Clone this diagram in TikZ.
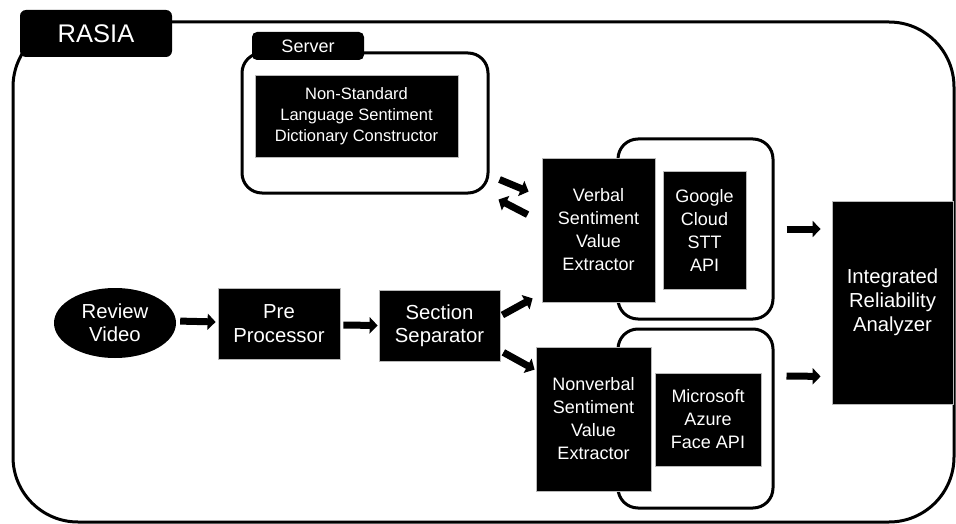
\documentclass[tikz,border=0pt]{standalone}
\usepackage{fontspec}
\setmainfont{Liberation Sans}
\usetikzlibrary{arrows.meta,shapes.geometric}
\tikzset{
  blk/.style={fill=black, draw=gray!55, line width=0.8pt, text=white, align=center, inner sep=0pt},
  fsR/.style={font=\fontsize{18}{23}\selectfont},
  fsL/.style={font=\fontsize{20.3}{23.5}\selectfont},
  cont/.style={draw=black, line width=3pt, rounded corners=20pt, inner sep=0pt},
  tab/.style={fill=black, text=white, rounded corners=6pt, inner sep=0pt},
  arr/.style={line width=7pt, -{Triangle[length=8pt,width=16pt]}},
}
\begin{document}
\begin{tikzpicture}[x=1pt,y=-1pt]
\useasboundingbox (0,0) rectangle (956,524);
% outer frame
\node[draw=black, line width=3pt, rounded corners=65pt, minimum width=941pt, minimum height=500pt, inner sep=0pt] (frame) at (483.5,272) {};
\node[tab, minimum width=152pt, minimum height=47pt, font=\fontsize{25.5}{28}\selectfont] (rasia) at (96,33.5) {RASIA};
% server
\node[cont, minimum width=246pt, minimum height=140pt] (scont) at (365,123) {};
\node[tab, rounded corners=5pt, minimum width=112pt, minimum height=28pt, font=\fontsize{18}{20}\selectfont] (server) at (308,46) {Server};
\node[blk, minimum width=203pt, minimum height=82pt, font=\fontsize{16.5}{21}\selectfont] (dict) at (356.5,116) {Non-Standard\\Language Sentiment\\Dictionary Constructor};
% verbal
\node[cont, minimum width=155pt, minimum height=180pt] (vcont) at (695.5,229) {};
\node[blk, fsR, minimum width=113pt, minimum height=144pt] (verbal) at (598.5,230) {Verbal\\Sentiment\\Value\\Extractor};
\node[blk, fsR, minimum width=83pt, minimum height=118pt] (google) at (704.5,230) {Google\\Cloud\\STT\\API};
% nonverbal
\node[cont, minimum width=155pt, minimum height=179pt] (nvcont) at (695.5,418.5) {};
\node[blk, fsR, minimum width=115pt, minimum height=144pt] (nonverbal) at (593.5,419) {Nonverbal\\Sentiment\\Value\\Extractor};
\node[blk, fsR, minimum width=106pt, minimum height=93pt] (ms) at (708,419.5) {Microsoft\\Azure\\Face API};
% integrated
\node[blk, font=\fontsize{20.3}{24}\selectfont, minimum width=121pt, minimum height=203pt] (integ) at (892.5,302.5) {Integrated\\Reliability\\Analyzer};
% left chain
\node[blk, fsL, minimum width=121pt, minimum height=71pt] (section) at (439.5,325.5) {Section\\Separator};
\node[blk, fsL, minimum width=122pt, minimum height=71pt] (pre) at (279,323.5) {Pre\\Processor};
\node[ellipse, fill=black, text=white, align=center, inner sep=0pt, font=\fontsize{20.3}{23}\selectfont, minimum width=122pt, minimum height=70pt] (review) at (115,323) {Review\\Video};
% arrows
\draw[arr, shorten <=4pt, shorten >=2pt] ([yshift=2]review.east) -- ([yshift=1.5]pre.west);
\draw[arr] ([shift={(3,1.5)}]pre.east) -- ([shift={(-1,0)}]section.west);
\draw[arr] ([shift={(2,-10.5)}]section.east) -- ([shift={(-9,-4)}]verbal.south west);
\draw[arr] ([shift={(3,-9)}]section.south east) -- ([shift={(-1,23)}]nonverbal.north west);
\draw[arr] ([shift={(10,-15)}]scont.south east) -- ([shift={(-13,34)}]verbal.north west);
\draw[arr] ([shift={(-14,57)}]verbal.north west) -- ([shift={(9,5)}]scont.south east);
\draw[arr] ([xshift=12]vcont.east) -- ([shift={(-11,0)}]vcont.east -| integ.west);
\draw[arr] ([shift={(12,-42.5)}]nvcont.east) -- ([shift={(-11,-28)}]integ.south west);
\end{tikzpicture}
\end{document}
